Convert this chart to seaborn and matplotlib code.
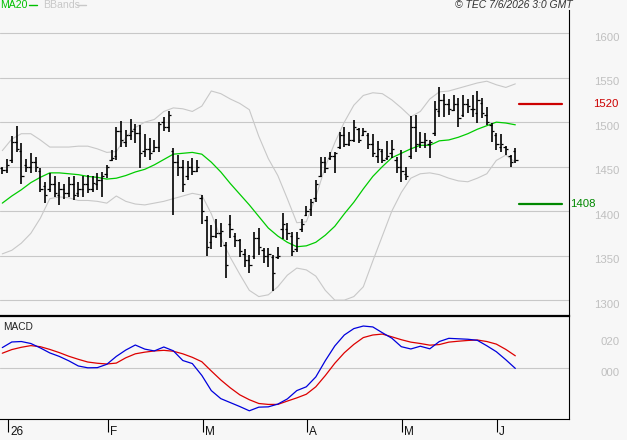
import matplotlib.pyplot as plt
import matplotlib.transforms as mtransforms
from matplotlib.lines import Line2D
import numpy as np
import pandas as pd
import seaborn as sns

# trading calendar (Dec 31 2025 -> Jun 5 2026, exchange holidays removed)
start_day = '2025-12-31'
end_day = '2026-06-05'
holidays = ['2026-01-01', '2026-04-03', '2026-04-06', '2026-05-01']

# daily OHLC
open_ = [1448, 1446, 1458, 1478, 1468, 1452, 1450, 1455, 1445, 1428,
         1425, 1430, 1418, 1425, 1420, 1430, 1420, 1425, 1430, 1425,
         1430, 1435, 1442, 1458, 1462, 1490, 1478, 1485, 1492, 1488,
         1468, 1470, 1468, 1472, 1500, 1495, 1468, 1455, 1450, 1440,
         1450, 1445, 1415, 1390, 1365, 1372, 1375, 1362, 1385, 1372,
         1368, 1352, 1345, 1350, 1370, 1356, 1350, 1348, 1348, 1380,
         1380, 1372, 1358, 1380, 1396, 1402, 1415, 1440, 1455, 1460,
         1462, 1472, 1485, 1475, 1480, 1492, 1486, 1486, 1475, 1462,
         1468, 1460, 1465, 1458, 1450, 1442, 1462, 1495, 1475, 1478,
         1475, 1488, 1512, 1525, 1520, 1514, 1520, 1508, 1520, 1515,
         1510, 1522, 1508, 1497, 1485, 1472, 1472, 1462, 1468]
high = [1450, 1459, 1484, 1496, 1477, 1459, 1465, 1461, 1448, 1433,
        1443, 1439, 1433, 1431, 1438, 1439, 1433, 1439, 1441, 1439,
        1443, 1444, 1452, 1469, 1494, 1501, 1491, 1503, 1498, 1497,
        1487, 1482, 1480, 1500, 1506, 1512, 1471, 1463, 1458, 1456,
        1460, 1458, 1418, 1394, 1384, 1391, 1387, 1365, 1396, 1375,
        1369, 1357, 1351, 1376, 1381, 1359, 1359, 1351, 1360, 1398,
        1387, 1376, 1376, 1391, 1406, 1414, 1435, 1461, 1461, 1466,
        1467, 1489, 1494, 1489, 1502, 1493, 1493, 1488, 1487, 1479,
        1470, 1479, 1480, 1461, 1469, 1450, 1507, 1508, 1489, 1488,
        1480, 1524, 1540, 1532, 1526, 1531, 1527, 1531, 1526, 1531,
        1535, 1527, 1517, 1499, 1488, 1487, 1473, 1463, 1471]
low = [1442, 1443, 1454, 1466, 1431, 1444, 1443, 1444, 1421, 1409,
       1421, 1416, 1407, 1414, 1416, 1412, 1416, 1416, 1420, 1421,
       1424, 1416, 1437, 1456, 1458, 1472, 1472, 1480, 1477, 1449,
       1461, 1458, 1466, 1466, 1490, 1489, 1396, 1439, 1422, 1435,
       1441, 1444, 1385, 1350, 1357, 1370, 1360, 1325, 1370, 1360,
       1349, 1337, 1331, 1346, 1351, 1342, 1337, 1310, 1346, 1369,
       1368, 1350, 1354, 1376, 1394, 1394, 1410, 1438, 1443, 1457,
       1443, 1470, 1472, 1473, 1478, 1477, 1484, 1470, 1461, 1454,
       1454, 1457, 1460, 1443, 1433, 1435, 1459, 1467, 1471, 1471,
       1460, 1484, 1506, 1506, 1508, 1512, 1495, 1506, 1510, 1506,
       1499, 1505, 1497, 1478, 1469, 1467, 1463, 1450, 1454]
close = [1446, 1452, 1478, 1470, 1440, 1450, 1455, 1450, 1425, 1418,
         1430, 1420, 1425, 1420, 1430, 1418, 1425, 1430, 1425, 1432,
         1435, 1440, 1450, 1460, 1490, 1480, 1485, 1490, 1488, 1465,
         1470, 1465, 1472, 1498, 1495, 1508, 1455, 1450, 1430, 1450,
         1445, 1450, 1400, 1360, 1372, 1375, 1378, 1340, 1380, 1368,
         1355, 1345, 1340, 1370, 1360, 1350, 1352, 1330, 1350, 1385,
         1375, 1355, 1370, 1385, 1400, 1410, 1430, 1455, 1448, 1462,
         1465, 1485, 1475, 1480, 1495, 1480, 1490, 1475, 1465, 1470,
         1458, 1462, 1470, 1450, 1445, 1440, 1495, 1475, 1478, 1480,
         1478, 1515, 1525, 1520, 1515, 1520, 1505, 1520, 1518, 1515,
         1525, 1510, 1500, 1490, 1475, 1475, 1470, 1455, 1458]

ma20 = [1409, 1417, 1424, 1432, 1438, 1443, 1443, 1442, 1441, 1439,
        1438, 1436, 1437, 1440, 1444, 1447, 1452, 1458, 1464, 1465,
        1466, 1464, 1455, 1444, 1431, 1419, 1407, 1394, 1381, 1372,
        1365, 1360, 1361, 1365, 1373, 1383, 1397, 1410, 1425, 1439,
        1450, 1460, 1465, 1470, 1474, 1474, 1479, 1480, 1483, 1487,
        1492, 1496, 1500, 1499, 1497]
bb_upper = [1468, 1481, 1487, 1487, 1480, 1472, 1472, 1472, 1473, 1473,
            1470, 1466, 1467, 1483, 1494, 1500, 1503, 1512, 1516, 1515,
            1512, 1518, 1535, 1532, 1526, 1521, 1514, 1484, 1459, 1440,
            1414, 1387, 1388, 1416, 1450, 1477, 1500, 1519, 1530, 1533,
            1532, 1525, 1516, 1506, 1512, 1526, 1534, 1535, 1538, 1541,
            1544, 1546, 1542, 1539, 1543]
bb_lower = [1352, 1356, 1364, 1375, 1392, 1414, 1416, 1415, 1412, 1412,
            1411, 1409, 1417, 1411, 1408, 1407, 1409, 1411, 1414, 1417,
            1420, 1418, 1397, 1370, 1348, 1329, 1311, 1304, 1306, 1315,
            1328, 1336, 1334, 1327, 1311, 1300, 1300, 1304, 1315, 1344,
            1372, 1400, 1421, 1437, 1442, 1443, 1441, 1437, 1434, 1433,
            1437, 1442, 1457, 1463, 1455]
macd = [13.6, 17.3, 17.6, 16.3, 13.4, 10.1, 7.8, 4.9, 1.5, 0.3,
        0.4, 2.6, 7.8, 12.0, 15.3, 12.6, 11.4, 14.0, 11.5, 5.1,
        3.1, -4.7, -14.7, -20.0, -22.6, -25.2, -28.0, -25.6, -25.4, -23.6,
        -20.2, -14.7, -12.2, -5.7, 5.0, 14.7, 21.9, 26.1, 27.8, 27.2,
        23.4, 19.8, 14.2, 12.7, 14.5, 12.8, 17.6, 19.7, 19.4, 19.1,
        18.4, 14.8, 10.9, 5.6, -0.1]
signal = [9.9, 12.3, 13.8, 14.9, 14.2, 12.4, 10.3, 7.9, 5.9, 4.1,
          3.3, 2.8, 3.4, 6.9, 9.5, 10.6, 11.4, 11.8, 11.2, 9.5,
          7.2, 4.3, -1.8, -7.7, -12.9, -17.5, -20.7, -23.2, -23.8, -23.8,
          -21.6, -19.5, -17.1, -12.2, -4.8, 3.3, 10.2, 15.7, 20.2, 21.9,
          22.5, 20.7, 18.8, 17.2, 16.3, 15.2, 15.6, 17.2, 17.8, 18.3,
          18.6, 17.6, 15.9, 12.4, 8.2]

price_ticks = [1300, 1350, 1400, 1450, 1500, 1550, 1600]
macd_ticks = [0, 20]
macd_tick_labels = ['000', '020']
resistance = 1520
support = 1408

BG = '#f7f7f7'
GRID = '#c8c8c8'
LABEL = '#c0c0c0'

days = pd.bdate_range(start_day, end_day)
days = days[~days.isin(pd.to_datetime(holidays))]
idx = np.arange(len(days))
ohlc = pd.DataFrame({'idx': idx, 'open': open_, 'high': high,
                     'low': low, 'close': close})
ind = pd.DataFrame({'idx': idx[::2], 'ma20': ma20, 'upper': bb_upper,
                    'lower': bb_lower, 'macd': macd, 'signal': signal})

sns.set_theme(style='white')
plt.rcParams['font.family'] = ['Liberation Sans', 'DejaVu Sans']

W, H = 627, 440
fig = plt.figure(figsize=(W / 100, H / 100), dpi=100)
fig.patch.set_facecolor(BG)
ax = fig.add_axes([0, (H - 315) / H, 569 / W, 305 / H])
ax2 = fig.add_axes([0, (H - 419) / H, 569 / W, 103 / H])
for a in (ax, ax2):
    a.set_facecolor(BG)
    a.set_xlim(-0.484, 119.3)
    a.set_xticks([])
    a.set_yticks([])
    for s in a.spines.values():
        s.set_visible(False)
    a.spines['right'].set_visible(True)
    a.spines['right'].set_color('black')
    a.spines['right'].set_linewidth(0.8)

# --- price panel ---
ax.set_ylim(1283.3, 1626.0)
for v in price_ticks:
    ax.axhline(v, color=GRID, lw=0.8, zorder=0)
sns.lineplot(data=ind, x='idx', y='upper', ax=ax, color='#c8c8c8', lw=0.8)
sns.lineplot(data=ind, x='idx', y='lower', ax=ax, color='#c8c8c8', lw=0.8)
sns.lineplot(data=ind, x='idx', y='ma20', ax=ax, color='#00cc00', lw=0.9)
ax.vlines(ohlc['idx'], ohlc['low'], ohlc['high'], color='black', lw=1.2, zorder=3)
ax.hlines(ohlc['open'], ohlc['idx'] - 0.5, ohlc['idx'], color='black', lw=0.9, zorder=3)
ax.hlines(ohlc['close'], ohlc['idx'], ohlc['idx'] + 0.5, color='black', lw=0.9, zorder=3)
ax.axhline(resistance, 519 / 569, 562 / 569, color='#cc0000', lw=1.6)
ax.axhline(support, 519 / 569, 562 / 569, color='#008800', lw=1.6)
ax.set_xlabel('')
ax.set_ylabel('')

shift = mtransforms.ScaledTranslation(0, -4.5 / 100, fig.dpi_scale_trans)
btr = mtransforms.blended_transform_factory(ax.transAxes, ax.transData)
for v in price_ticks:
    ax.text(619.5 / 569, v, str(v), transform=btr + shift, ha='right',
            va='center', color=LABEL, fontsize=8.2, clip_on=False)
ax.text(593 / 569, resistance, str(resistance), transform=btr, ha='left',
        va='center', color='#cc0000', fontsize=8.2, clip_on=False)
ax.text(570.5 / 569, support, str(support), transform=btr, ha='left',
        va='center', color='#008800', fontsize=8.2, clip_on=False)

# --- MACD panel ---
ax2.set_ylim(-33.4, 34.4)
ax2.axhline(0, color=GRID, lw=0.8, zorder=0)
sns.lineplot(data=ind, x='idx', y='signal', ax=ax2, color='#dd0000', lw=0.9)
sns.lineplot(data=ind, x='idx', y='macd', ax=ax2, color='#0000dd', lw=0.9)
ax2.set_xlabel('')
ax2.set_ylabel('')
ax2.spines['top'].set_visible(True)
ax2.spines['top'].set_color('black')
ax2.spines['top'].set_linewidth(1.6)
ax2.spines['bottom'].set_visible(True)
ax2.spines['bottom'].set_color('black')
ax2.spines['bottom'].set_linewidth(0.8)
ax2.text(0.005, 0.89, 'MACD', transform=ax2.transAxes, ha='left', va='center',
         color='#222222', fontsize=7.3)
btr2 = mtransforms.blended_transform_factory(ax2.transAxes, ax2.transData)
for v, lab in zip(macd_ticks, macd_tick_labels):
    ax2.text(619.5 / 569, v, lab, transform=btr2 + shift, ha='right',
             va='center', color=LABEL, fontsize=8.2, clip_on=False)

# month ticks (only months of the current year are marked)
month_first = pd.Series(idx, index=days).groupby(days.to_period('M')).min()
month_first = month_first[month_first.index.year == days[-1].year]
month_pos = month_first.values + 0.2
month_lab = ['26' if p.month == 1 else p.strftime('%b')[0] for p in month_first.index]
ax2.set_xticks(month_pos)
ax2.set_xticklabels([])
ax2.tick_params(axis='x', bottom=True, direction='out', length=9.5,
                width=0.8, color='black')
xtr = mtransforms.blended_transform_factory(ax2.transData, ax2.transAxes)
nudge = mtransforms.ScaledTranslation(2 / 100, 0, fig.dpi_scale_trans)
for p, lab in zip(month_pos, month_lab):
    ax2.text(p, -0.13, lab, transform=xtr + nudge, ha='left', va='center',
             color='#111111', fontsize=8.5, clip_on=False)

# header
fig.text(0.5 / W, 1 - 5.5 / H, 'MA20', color='#00c000', fontsize=7.6,
         ha='left', va='center')
fig.add_artist(Line2D([29 / W, 37 / W], [1 - 5 / H] * 2, color='#00c000', lw=1.0))
fig.text(43 / W, 1 - 5.5 / H, 'BBands', color='#c8c8c8', fontsize=7.6,
         ha='left', va='center')
fig.add_artist(Line2D([77 / W, 86 / W], [1 - 5 / H] * 2, color='#c8c8c8', lw=1.0))
fig.text(455 / W, 1 - 5.5 / H, '\u00a9 TEC 7/6/2026 3:0 GMT', color='#333333',
         fontsize=7.5, style='italic', ha='left', va='center')

fig.savefig('out.png', dpi=100, facecolor=BG)
